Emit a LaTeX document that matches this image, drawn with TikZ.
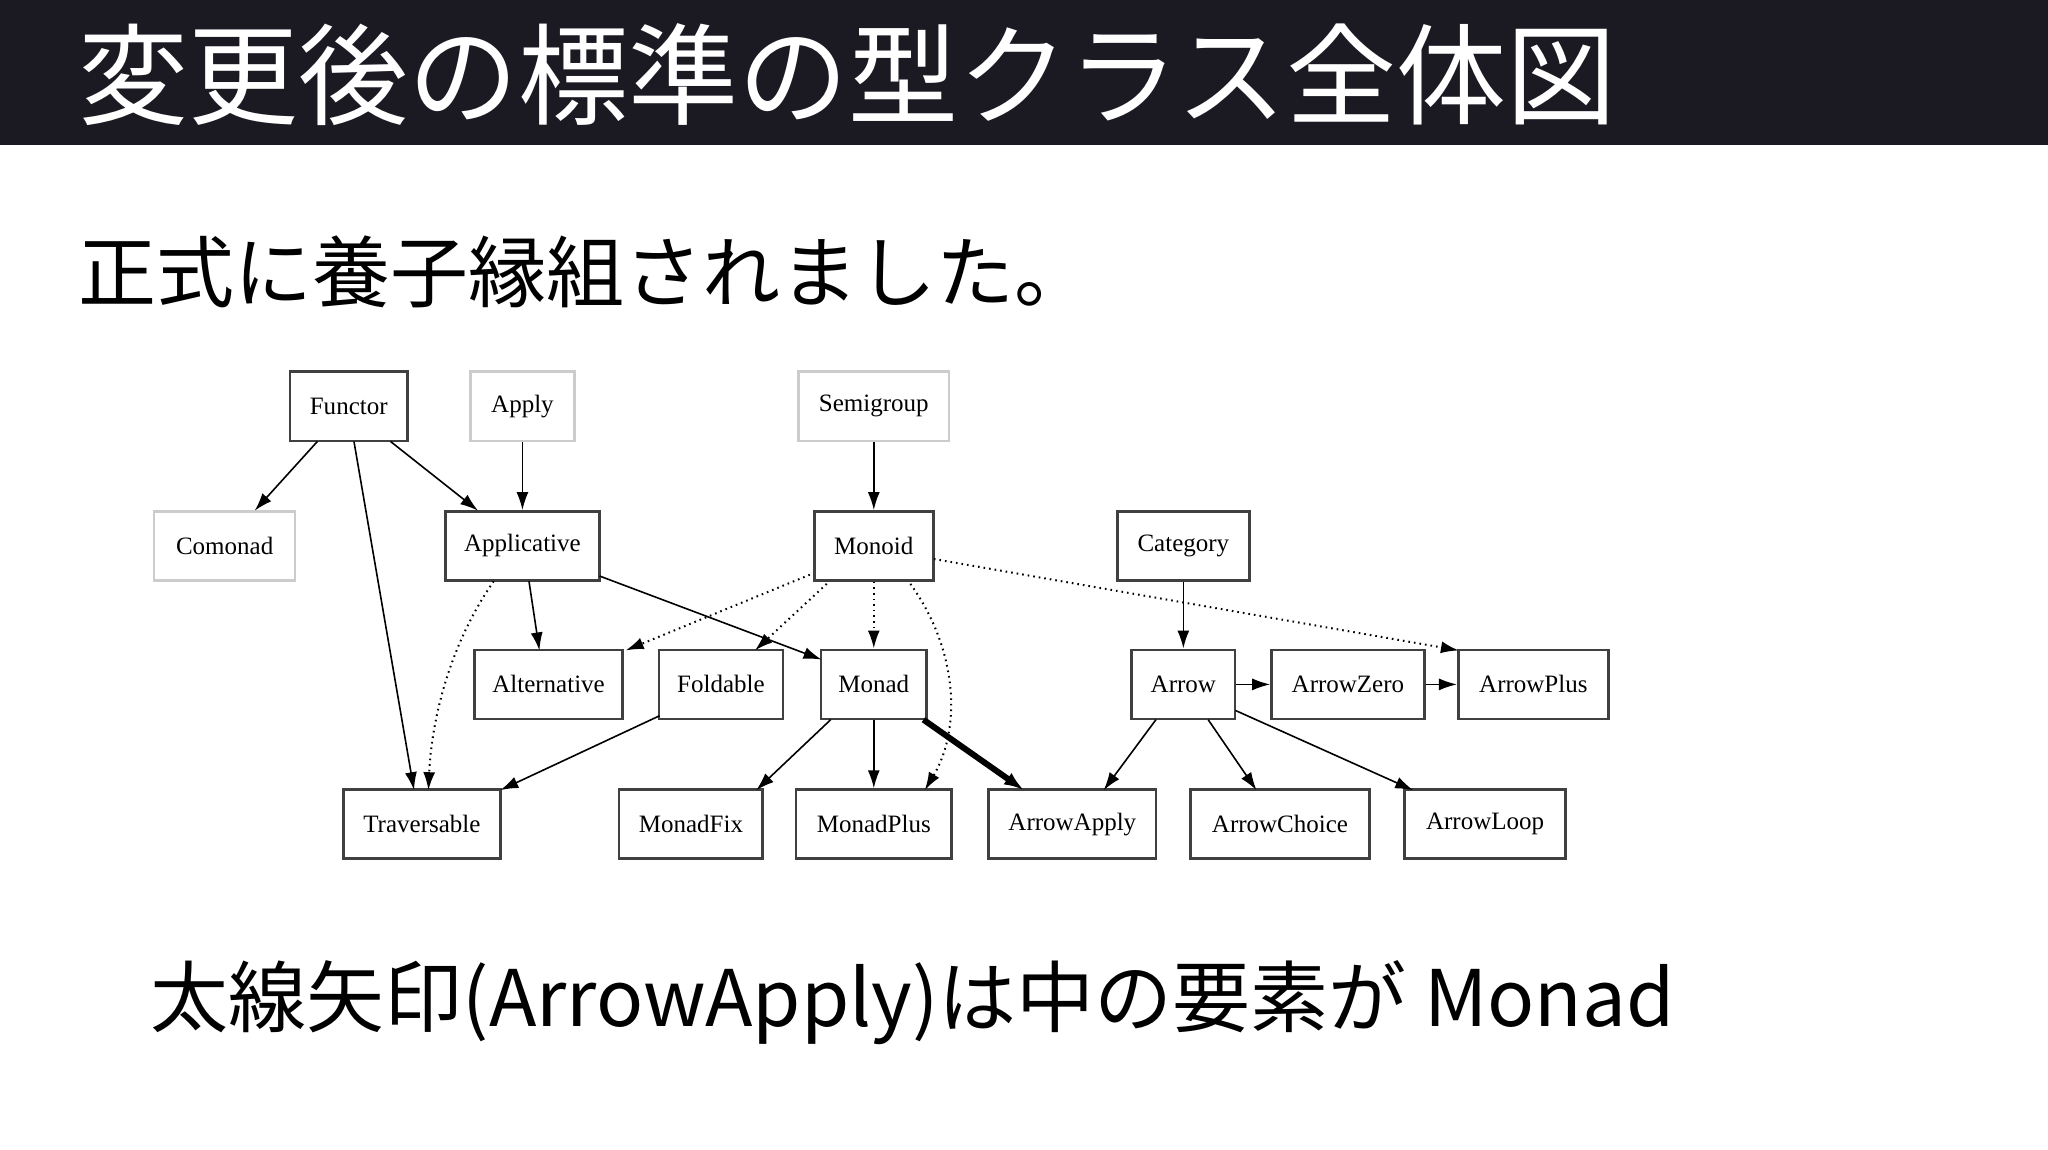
\documentclass[tikz,border=0pt]{standalone}
\usepackage{fontspec}
\setmainfont{Liberation Serif}
\newfontfamily\cjk{Noto Sans CJK JP}
\usetikzlibrary{arrows.meta}
\definecolor{barc}{HTML}{1B1922}
\begin{document}
\begin{tikzpicture}[x=0.653pt,y=-0.653pt,
  box/.style={draw=black!75,line width=1.3pt,minimum height=34.6pt,inner sep=0pt,font=\fontsize{12.5}{14}\selectfont},
  lbox/.style={box,draw=black!20},
  e/.style={-{Latex[length=9pt,width=6pt]},line width=0.8pt},
  d/.style={e,dotted,line width=1pt}]
\useasboundingbox (0,0) rectangle (1568,880);
\fill[white] (0,0) rectangle (1568,880);
\fill[barc] (0,0) rectangle (1568,111);
\node[anchor=west,text=white,font=\cjk\fontsize{55}{60}\selectfont] (title) at (55,57) {変更後の標準の型クラス全体図};
\node[anchor=west,font=\cjk\fontsize{39}{44}\selectfont] (sub) at (55,208) {正式に養子縁組されました。};
\node[anchor=west,font=\cjk\fontsize{39}{44}\selectfont] (foot) at (110,768) {太線矢印(ArrowApply)は中の要素が Monad};
% nodes
\node[box,minimum width=58.8pt] (Functor) at (267,311) {Functor};
\node[lbox,minimum width=52.2pt] (Apply) at (400,311) {Apply};
\node[lbox,minimum width=75.1pt] (Semigroup) at (669,311) {Semigroup};
\node[lbox,minimum width=70.5pt] (Comonad) at (172,418) {Comonad};
\node[box,minimum width=77pt] (Applicative) at (400,418) {Applicative};
\node[box,minimum width=59.4pt] (Monoid) at (669,418) {Monoid};
\node[box,minimum width=66pt] (Category) at (906,418) {Category};
\node[box,minimum width=73.8pt] (Alternative) at (420,524) {Alternative};
\node[box,minimum width=62pt] (Foldable) at (552,524) {Foldable};
\node[box,minimum width=52.9pt] (Monad) at (669,524) {Monad};
\node[box,minimum width=51.6pt] (Arrow) at (906,524) {Arrow};
\node[box,minimum width=76.4pt] (ArrowZero) at (1032,524) {ArrowZero};
\node[box,minimum width=75.1pt] (ArrowPlus) at (1174,524) {ArrowPlus};
\node[box,minimum width=78.4pt] (Traversable) at (323,631) {Traversable};
\node[box,minimum width=71.8pt] (MonadFix) at (529,631) {MonadFix};
\node[box,minimum width=77.7pt] (MonadPlus) at (669,631) {MonadPlus};
\node[box,minimum width=83.6pt] (ArrowApply) at (821,631) {ArrowApply};
\node[box,minimum width=89.5pt] (ArrowChoice) at (980,631) {ArrowChoice};
\node[box,minimum width=80.3pt] (ArrowLoop) at (1137,631) {ArrowLoop};
% coordinates for edge ends
\coordinate (fc1) at (243,338); \coordinate (fc2) at (195,391);
\coordinate (fa1) at (299,338); \coordinate (fa2) at (366,391);
\coordinate (ft1) at (271,338); \coordinate (ft2) at (317,605);
\coordinate (at1) at (378,445); \coordinate (at2) at (328,605);
\coordinate (al1) at (405,445); \coordinate (al2) at (413,498);
\coordinate (am1) at (459,441); \coordinate (am2) at (629,505);
\coordinate (ma1) at (620,440); \coordinate (ma2) at (479,498);
\coordinate (mf1) at (633,447); \coordinate (mf2) at (578,498);
\coordinate (mp1) at (697,447); \coordinate (mp2) at (708,605);
\coordinate (mw1) at (715,428); \coordinate (mw2) at (1117,498);
\coordinate (aa1) at (707,551); \coordinate (aa2) at (784,605);
\coordinate (ft3) at (505,548); \coordinate (ft4) at (383,605);
\coordinate (mx1) at (636,551); \coordinate (mx2) at (579,605);
\coordinate (ra1) at (885,551); \coordinate (ra2) at (845,605);
\coordinate (rc1) at (925,551); \coordinate (rc2) at (962,605);
\coordinate (rl1) at (946,544); \coordinate (rl2) at (1082,605);
% edges
\draw[e] (fc1) -- (fc2);
\draw[e] (fa1) -- (fa2);
\draw[e] (ft1) -- (ft2);
\draw[e] (Apply) -- (Applicative);
\draw[e] (Semigroup) -- (Monoid);
\draw[d] (at1) .. controls (340,500) and (330,560) .. (at2);
\draw[e] (al1) -- (al2);
\draw[e] (am1) -- (am2);
\draw[d] (ma1) -- (ma2);
\draw[d] (mf1) -- (mf2);
\draw[d] (Monoid) -- (Monad);
\draw[d] (mp1) .. controls (735,500) and (735,560) .. (mp2);
\draw[d] (mw1) -- (mw2);
\draw[e] (Category) -- (Arrow);
\draw[e] (Arrow) -- (ArrowZero);
\draw[e] (ArrowZero) -- (ArrowPlus);
\draw[e] (ft3) -- (ft4);
\draw[e] (mx1) -- (mx2);
\draw[e] (Monad) -- (MonadPlus);
\draw[-{Latex[length=10pt,width=7pt]},line width=3pt] (aa1) -- (aa2);
\draw[e] (ra1) -- (ra2);
\draw[e] (rc1) -- (rc2);
\draw[e] (rl1) -- (rl2);
\end{tikzpicture}
\end{document}
